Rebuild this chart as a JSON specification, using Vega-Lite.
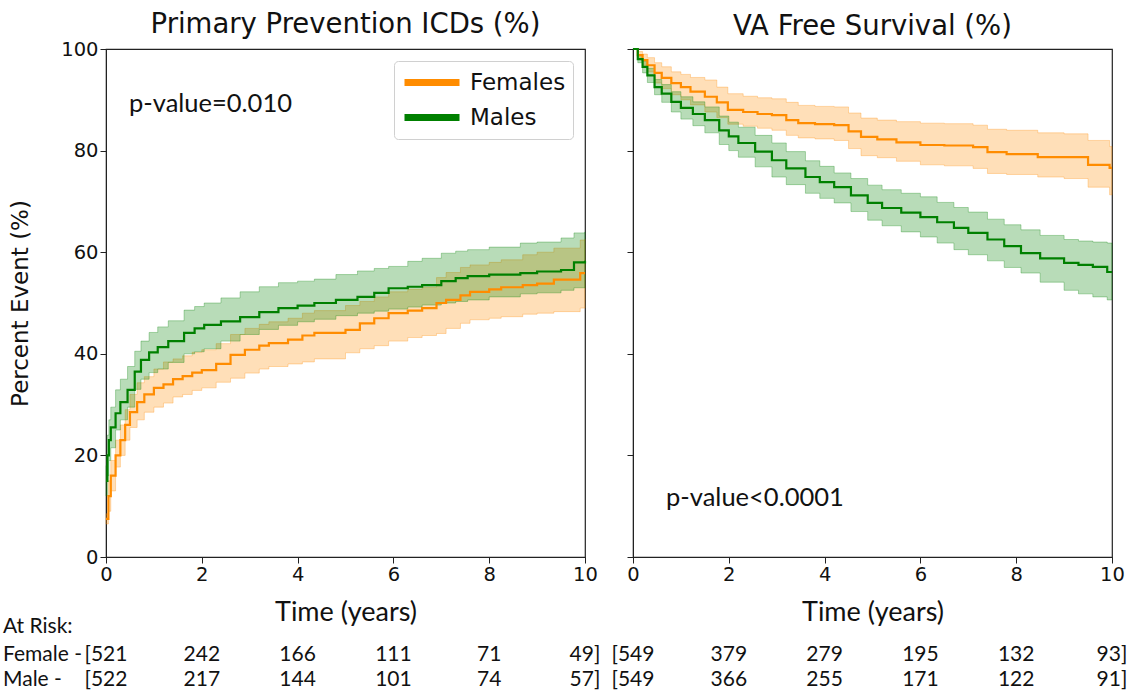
{
  "$schema": "https://vega.github.io/schema/vega-lite/v6.json",
  "padding": {"left": 2, "top": 9, "right": 5, "bottom": 0},
  "background": "white",
  "config": {
    "view": {"stroke": "#222", "strokeWidth": 1.2},
    "font": "DejaVu Sans",
    "axis": {"domainColor": "#222", "tickColor": "#222", "labelColor": "#111", "titleColor": "#111", "labelFont": "DejaVu Sans", "labelFontSize": 19.5, "tickSize": 6, "grid": false, "titleFontWeight": "normal", "labelFlush": false},
    "title": {"font": "DejaVu Sans", "fontSize": 27.5, "fontWeight": "normal", "color": "#111", "offset": 1},
    "text": {"color": "#111"}
  },
  "datasets": {
    "km": [
      {"panel":"ICD","sex":"Females","t":0,"est":7.5,"lo":6.5,"hi":8.5},
      {"panel":"ICD","sex":"Females","t":0.05,"est":12,"lo":9,"hi":15},
      {"panel":"ICD","sex":"Females","t":0.1,"est":16,"lo":13,"hi":19},
      {"panel":"ICD","sex":"Females","t":0.2,"est":20,"lo":17.7,"hi":23},
      {"panel":"ICD","sex":"Females","t":0.3,"est":23,"lo":20,"hi":26},
      {"panel":"ICD","sex":"Females","t":0.4,"est":26,"lo":23,"hi":29},
      {"panel":"ICD","sex":"Females","t":0.5,"est":28.5,"lo":25.5,"hi":32},
      {"panel":"ICD","sex":"Females","t":0.65,"est":30.5,"lo":27,"hi":34.3},
      {"panel":"ICD","sex":"Females","t":0.8,"est":32,"lo":28.5,"hi":35.5},
      {"panel":"ICD","sex":"Females","t":1.0,"est":33.3,"lo":29.5,"hi":37},
      {"panel":"ICD","sex":"Females","t":1.2,"est":34,"lo":30.3,"hi":38.4},
      {"panel":"ICD","sex":"Females","t":1.4,"est":35,"lo":31.5,"hi":39},
      {"panel":"ICD","sex":"Females","t":1.6,"est":35.6,"lo":32,"hi":39.6},
      {"panel":"ICD","sex":"Females","t":1.8,"est":36.3,"lo":32.8,"hi":40.3},
      {"panel":"ICD","sex":"Females","t":2.0,"est":36.8,"lo":33.3,"hi":40.8},
      {"panel":"ICD","sex":"Females","t":2.3,"est":38,"lo":34.4,"hi":42},
      {"panel":"ICD","sex":"Females","t":2.6,"est":39.8,"lo":35.2,"hi":43.8},
      {"panel":"ICD","sex":"Females","t":2.9,"est":40.8,"lo":36.2,"hi":45},
      {"panel":"ICD","sex":"Females","t":3.2,"est":41.6,"lo":37,"hi":45.8},
      {"panel":"ICD","sex":"Females","t":3.4,"est":42.1,"lo":37.5,"hi":46.3},
      {"panel":"ICD","sex":"Females","t":3.8,"est":42.8,"lo":38,"hi":47},
      {"panel":"ICD","sex":"Females","t":4.1,"est":43.6,"lo":38.4,"hi":48},
      {"panel":"ICD","sex":"Females","t":4.35,"est":44.1,"lo":39,"hi":48.5},
      {"panel":"ICD","sex":"Females","t":5.0,"est":44.7,"lo":40.2,"hi":49.5},
      {"panel":"ICD","sex":"Females","t":5.3,"est":46,"lo":41,"hi":50.3},
      {"panel":"ICD","sex":"Females","t":5.6,"est":47,"lo":41.6,"hi":51.2},
      {"panel":"ICD","sex":"Females","t":5.9,"est":48,"lo":42.5,"hi":52.2},
      {"panel":"ICD","sex":"Females","t":6.3,"est":48.5,"lo":43.2,"hi":52.7},
      {"panel":"ICD","sex":"Females","t":6.6,"est":49,"lo":43.6,"hi":53.1},
      {"panel":"ICD","sex":"Females","t":6.9,"est":50,"lo":44,"hi":55},
      {"panel":"ICD","sex":"Females","t":7.1,"est":50.6,"lo":45,"hi":56},
      {"panel":"ICD","sex":"Females","t":7.4,"est":51.5,"lo":46,"hi":57},
      {"panel":"ICD","sex":"Females","t":7.6,"est":52.2,"lo":46.7,"hi":57.5},
      {"panel":"ICD","sex":"Females","t":8.0,"est":52.7,"lo":47,"hi":58},
      {"panel":"ICD","sex":"Females","t":8.25,"est":53.1,"lo":47.3,"hi":58.5},
      {"panel":"ICD","sex":"Females","t":8.7,"est":53.5,"lo":47.8,"hi":59.5},
      {"panel":"ICD","sex":"Females","t":9.0,"est":53.8,"lo":48,"hi":60},
      {"panel":"ICD","sex":"Females","t":9.35,"est":54.6,"lo":48.3,"hi":60.8},
      {"panel":"ICD","sex":"Females","t":9.9,"est":55.9,"lo":49,"hi":62.4},
      {"panel":"ICD","sex":"Females","t":10,"est":55.9,"lo":49,"hi":62.5},

      {"panel":"ICD","sex":"Males","t":0,"est":15,"lo":12,"hi":18},
      {"panel":"ICD","sex":"Males","t":0.03,"est":20,"lo":16,"hi":24},
      {"panel":"ICD","sex":"Males","t":0.06,"est":23,"lo":19,"hi":27},
      {"panel":"ICD","sex":"Males","t":0.1,"est":25.5,"lo":21.5,"hi":29.5},
      {"panel":"ICD","sex":"Males","t":0.2,"est":28.3,"lo":25,"hi":32.9},
      {"panel":"ICD","sex":"Males","t":0.3,"est":30.5,"lo":27,"hi":35},
      {"panel":"ICD","sex":"Males","t":0.45,"est":32.9,"lo":29.5,"hi":37.5},
      {"panel":"ICD","sex":"Males","t":0.6,"est":36.5,"lo":33,"hi":40.5},
      {"panel":"ICD","sex":"Males","t":0.73,"est":38.8,"lo":35,"hi":42.5},
      {"panel":"ICD","sex":"Males","t":0.9,"est":40.3,"lo":36.3,"hi":44.2},
      {"panel":"ICD","sex":"Males","t":1.08,"est":41.3,"lo":37,"hi":45.3},
      {"panel":"ICD","sex":"Males","t":1.3,"est":42.5,"lo":38.3,"hi":46.5},
      {"panel":"ICD","sex":"Males","t":1.63,"est":44.1,"lo":40,"hi":48.6},
      {"panel":"ICD","sex":"Males","t":1.85,"est":45,"lo":40.4,"hi":49.3},
      {"panel":"ICD","sex":"Males","t":2.05,"est":45.7,"lo":41,"hi":50},
      {"panel":"ICD","sex":"Males","t":2.4,"est":46.4,"lo":42.5,"hi":51},
      {"panel":"ICD","sex":"Males","t":2.8,"est":47.2,"lo":43.8,"hi":52.2},
      {"panel":"ICD","sex":"Males","t":3.2,"est":48.2,"lo":44.8,"hi":53.2},
      {"panel":"ICD","sex":"Males","t":3.6,"est":49,"lo":45.6,"hi":54},
      {"panel":"ICD","sex":"Males","t":4.0,"est":49.5,"lo":46.3,"hi":54.3},
      {"panel":"ICD","sex":"Males","t":4.35,"est":50,"lo":46.8,"hi":54.7},
      {"panel":"ICD","sex":"Males","t":4.8,"est":50.6,"lo":47.5,"hi":55.6},
      {"panel":"ICD","sex":"Males","t":5.25,"est":51.2,"lo":48,"hi":56.3},
      {"panel":"ICD","sex":"Males","t":5.6,"est":52,"lo":48.4,"hi":56.8},
      {"panel":"ICD","sex":"Males","t":5.9,"est":52.9,"lo":48.8,"hi":57.2},
      {"panel":"ICD","sex":"Males","t":6.3,"est":53.2,"lo":49.2,"hi":58.2},
      {"panel":"ICD","sex":"Males","t":6.6,"est":53.5,"lo":49.6,"hi":58.8},
      {"panel":"ICD","sex":"Males","t":7.0,"est":54.3,"lo":50,"hi":59.8},
      {"panel":"ICD","sex":"Males","t":7.3,"est":54.9,"lo":50.3,"hi":60.2},
      {"panel":"ICD","sex":"Males","t":7.55,"est":55.3,"lo":50.6,"hi":60.5},
      {"panel":"ICD","sex":"Males","t":8.0,"est":55.6,"lo":51.2,"hi":61},
      {"panel":"ICD","sex":"Males","t":8.65,"est":55.9,"lo":51.8,"hi":61.8},
      {"panel":"ICD","sex":"Males","t":9.0,"est":56.2,"lo":52,"hi":62},
      {"panel":"ICD","sex":"Males","t":9.5,"est":56.5,"lo":52.5,"hi":62.8},
      {"panel":"ICD","sex":"Males","t":9.77,"est":58,"lo":53,"hi":63.8},
      {"panel":"ICD","sex":"Males","t":10,"est":58.3,"lo":53.2,"hi":64},

      {"panel":"VA","sex":"Females","t":0,"est":100,"lo":100,"hi":100},
      {"panel":"VA","sex":"Females","t":0.1,"est":98.8,"lo":98,"hi":99.5},
      {"panel":"VA","sex":"Females","t":0.2,"est":97.8,"lo":96.8,"hi":99},
      {"panel":"VA","sex":"Females","t":0.3,"est":96.8,"lo":95.5,"hi":98.3},
      {"panel":"VA","sex":"Females","t":0.45,"est":95.3,"lo":93.3,"hi":97.3},
      {"panel":"VA","sex":"Females","t":0.6,"est":94.3,"lo":92.2,"hi":96.5},
      {"panel":"VA","sex":"Females","t":0.8,"est":93.3,"lo":91,"hi":95.5},
      {"panel":"VA","sex":"Females","t":1.0,"est":92.5,"lo":90,"hi":95},
      {"panel":"VA","sex":"Females","t":1.2,"est":91.6,"lo":89,"hi":94.4},
      {"panel":"VA","sex":"Females","t":1.5,"est":90.6,"lo":87.6,"hi":93.9},
      {"panel":"VA","sex":"Females","t":1.75,"est":89.5,"lo":86.5,"hi":92.5},
      {"panel":"VA","sex":"Females","t":1.98,"est":88,"lo":85.2,"hi":91.2},
      {"panel":"VA","sex":"Females","t":2.3,"est":87.6,"lo":84.8,"hi":90.7},
      {"panel":"VA","sex":"Females","t":2.6,"est":87.2,"lo":84.4,"hi":90.4},
      {"panel":"VA","sex":"Females","t":2.9,"est":87,"lo":84,"hi":90.2},
      {"panel":"VA","sex":"Females","t":3.2,"est":86,"lo":83,"hi":89.5},
      {"panel":"VA","sex":"Females","t":3.45,"est":85.4,"lo":82.5,"hi":88.9},
      {"panel":"VA","sex":"Females","t":3.8,"est":85.2,"lo":82.3,"hi":88.7},
      {"panel":"VA","sex":"Females","t":4.2,"est":85,"lo":82,"hi":88.6},
      {"panel":"VA","sex":"Females","t":4.5,"est":83.8,"lo":80.4,"hi":87.4},
      {"panel":"VA","sex":"Females","t":4.76,"est":82.7,"lo":79,"hi":86.4},
      {"panel":"VA","sex":"Females","t":5.1,"est":82.2,"lo":78.6,"hi":86},
      {"panel":"VA","sex":"Females","t":5.5,"est":81.6,"lo":77.9,"hi":85.7},
      {"panel":"VA","sex":"Females","t":6.0,"est":81.1,"lo":77.2,"hi":85.4},
      {"panel":"VA","sex":"Females","t":6.5,"est":81,"lo":77,"hi":85.3},
      {"panel":"VA","sex":"Females","t":7.1,"est":80.7,"lo":76.5,"hi":85},
      {"panel":"VA","sex":"Females","t":7.4,"est":79.7,"lo":75.5,"hi":84.2},
      {"panel":"VA","sex":"Females","t":7.8,"est":79.3,"lo":75.3,"hi":84},
      {"panel":"VA","sex":"Females","t":8.45,"est":78.7,"lo":74.8,"hi":83.5},
      {"panel":"VA","sex":"Females","t":9.0,"est":78.7,"lo":74.5,"hi":83.3},
      {"panel":"VA","sex":"Females","t":9.5,"est":77.2,"lo":72.8,"hi":82},
      {"panel":"VA","sex":"Females","t":9.95,"est":76.6,"lo":71.3,"hi":80.8},
      {"panel":"VA","sex":"Females","t":10,"est":76.6,"lo":71.3,"hi":80.7},

      {"panel":"VA","sex":"Males","t":0,"est":100,"lo":100,"hi":100},
      {"panel":"VA","sex":"Males","t":0.1,"est":98,"lo":97.3,"hi":98.8},
      {"panel":"VA","sex":"Males","t":0.2,"est":96.5,"lo":95.3,"hi":97.6},
      {"panel":"VA","sex":"Males","t":0.3,"est":94.8,"lo":93.4,"hi":96.2},
      {"panel":"VA","sex":"Males","t":0.45,"est":92.5,"lo":91,"hi":94},
      {"panel":"VA","sex":"Males","t":0.6,"est":91.2,"lo":89.5,"hi":93},
      {"panel":"VA","sex":"Males","t":0.8,"est":89.6,"lo":87.6,"hi":91.6},
      {"panel":"VA","sex":"Males","t":1.0,"est":88.4,"lo":86.2,"hi":90.6},
      {"panel":"VA","sex":"Males","t":1.25,"est":87.2,"lo":84.9,"hi":89.6},
      {"panel":"VA","sex":"Males","t":1.5,"est":86,"lo":83.5,"hi":88.6},
      {"panel":"VA","sex":"Males","t":1.8,"est":84,"lo":81.2,"hi":86.8},
      {"panel":"VA","sex":"Males","t":2.0,"est":82.8,"lo":80,"hi":85.6},
      {"panel":"VA","sex":"Males","t":2.2,"est":81.5,"lo":78.7,"hi":84.6},
      {"panel":"VA","sex":"Males","t":2.55,"est":79.8,"lo":76.8,"hi":83},
      {"panel":"VA","sex":"Males","t":2.9,"est":78.1,"lo":74.8,"hi":81.5},
      {"panel":"VA","sex":"Males","t":3.2,"est":76.5,"lo":73.3,"hi":79.8},
      {"panel":"VA","sex":"Males","t":3.6,"est":74.8,"lo":71.6,"hi":78},
      {"panel":"VA","sex":"Males","t":3.9,"est":73.8,"lo":70.6,"hi":76.9},
      {"panel":"VA","sex":"Males","t":4.2,"est":72.8,"lo":69.7,"hi":75.6},
      {"panel":"VA","sex":"Males","t":4.55,"est":71.2,"lo":68,"hi":74.5},
      {"panel":"VA","sex":"Males","t":4.9,"est":69.7,"lo":66.3,"hi":73.2},
      {"panel":"VA","sex":"Males","t":5.2,"est":68.7,"lo":65.2,"hi":72.3},
      {"panel":"VA","sex":"Males","t":5.6,"est":67.8,"lo":64,"hi":71.6},
      {"panel":"VA","sex":"Males","t":6.0,"est":66.9,"lo":63,"hi":70.9},
      {"panel":"VA","sex":"Males","t":6.35,"est":65.9,"lo":61.8,"hi":69.8},
      {"panel":"VA","sex":"Males","t":6.7,"est":64.8,"lo":60.5,"hi":68.8},
      {"panel":"VA","sex":"Males","t":7.0,"est":63.8,"lo":59.5,"hi":67.9},
      {"panel":"VA","sex":"Males","t":7.4,"est":62.5,"lo":58.3,"hi":66.5},
      {"panel":"VA","sex":"Males","t":7.75,"est":61.2,"lo":57,"hi":65.4},
      {"panel":"VA","sex":"Males","t":8.1,"est":59.8,"lo":55.9,"hi":64.4},
      {"panel":"VA","sex":"Males","t":8.5,"est":58.8,"lo":54.1,"hi":63.3},
      {"panel":"VA","sex":"Males","t":9.0,"est":57.9,"lo":52.5,"hi":62.5},
      {"panel":"VA","sex":"Males","t":9.3,"est":57.5,"lo":51.8,"hi":62.2},
      {"panel":"VA","sex":"Males","t":9.6,"est":57.1,"lo":51.2,"hi":62},
      {"panel":"VA","sex":"Males","t":9.9,"est":56.1,"lo":50.6,"hi":61.8},
      {"panel":"VA","sex":"Males","t":10,"est":56.1,"lo":50.6,"hi":61.8}
    ],
    "risk": [
      {"panel":"ICD","grp":"Female","t":0,"label":"[521"},
      {"panel":"ICD","grp":"Female","t":2,"label":"242"},
      {"panel":"ICD","grp":"Female","t":4,"label":"166"},
      {"panel":"ICD","grp":"Female","t":6,"label":"111"},
      {"panel":"ICD","grp":"Female","t":8,"label":"71"},
      {"panel":"ICD","grp":"Female","t":10,"label":"49]"},
      {"panel":"ICD","grp":"Male","t":0,"label":"[522"},
      {"panel":"ICD","grp":"Male","t":2,"label":"217"},
      {"panel":"ICD","grp":"Male","t":4,"label":"144"},
      {"panel":"ICD","grp":"Male","t":6,"label":"101"},
      {"panel":"ICD","grp":"Male","t":8,"label":"74"},
      {"panel":"ICD","grp":"Male","t":10,"label":"57]"},
      {"panel":"VA","grp":"Female","t":0,"label":"[549"},
      {"panel":"VA","grp":"Female","t":2,"label":"379"},
      {"panel":"VA","grp":"Female","t":4,"label":"279"},
      {"panel":"VA","grp":"Female","t":6,"label":"195"},
      {"panel":"VA","grp":"Female","t":8,"label":"132"},
      {"panel":"VA","grp":"Female","t":10,"label":"93]"},
      {"panel":"VA","grp":"Male","t":0,"label":"[549"},
      {"panel":"VA","grp":"Male","t":2,"label":"366"},
      {"panel":"VA","grp":"Male","t":4,"label":"255"},
      {"panel":"VA","grp":"Male","t":6,"label":"171"},
      {"panel":"VA","grp":"Male","t":8,"label":"122"},
      {"panel":"VA","grp":"Male","t":10,"label":"91]"}
    ],
    "labels": [
      {"kind":"header","label":"At Risk:"},
      {"kind":"Female","label":"Female -"},
      {"kind":"Male","label":"Male -"},
      {"kind":"pICD","label":"p-value=0.010"},
      {"kind":"pVA","label":"p-value<0.0001"}
    ]
  },
  "hconcat": [
    {
      "width": 479,
      "height": 508,
      "title": {"text": "Primary Prevention ICDs (%)"},
      "layer": [
        {
          "data": {"name": "km"},
          "transform": [{"filter": "datum.panel === 'ICD'"}],
          "mark": {"type": "area", "interpolate": "step-after", "fillOpacity": 0.28, "strokeOpacity": 0.3, "strokeWidth": 1},
          "encoding": {
            "x": {"field": "t", "type": "quantitative", "scale": {"domain": [0, 10]}, "axis": {"values": [0, 2, 4, 6, 8, 10], "title": "Time (years)", "titleFont": "Lato", "titleFontSize": 27, "titlePadding": 16}},
            "y": {"field": "lo", "type": "quantitative", "scale": {"domain": [0, 100]}, "axis": {"values": [0, 20, 40, 60, 80, 100], "title": "Percent Event (%)", "titleFontSize": 23, "titlePadding": 28}},
            "y2": {"field": "hi"},
            "fill": {"field": "sex", "type": "nominal", "scale": {"domain": ["Females", "Males"], "range": ["#ff8c00", "#008000"]}, "legend": null},
            "stroke": {"field": "sex", "type": "nominal", "scale": {"domain": ["Females", "Males"], "range": ["#ff8c00", "#008000"]}, "legend": null}
          }
        },
        {
          "data": {"name": "km"},
          "transform": [{"filter": "datum.panel === 'ICD'"}],
          "mark": {"type": "line", "interpolate": "step-after", "strokeWidth": 2.2},
          "encoding": {
            "x": {"field": "t", "type": "quantitative"},
            "y": {"field": "est", "type": "quantitative"},
            "color": {"field": "sex", "type": "nominal", "scale": {"domain": ["Females", "Males"], "range": ["#ff8c00", "#008000"]}, "legend": {"title": null, "orient": "top-right", "offset": 12, "padding": 7, "strokeColor": "#d0d0d0", "fillColor": "white", "cornerRadius": 4, "symbolType": "M-1,0H4", "symbolStrokeWidth": 7, "symbolSize": 484, "labelFontSize": 23, "labelFont": "DejaVu Sans", "labelColor": "#111", "labelOffset": 40, "rowPadding": 6}}
          }
        },
        {
          "data": {"name": "labels"},
          "transform": [{"filter": "datum.kind === 'pICD'"}],
          "mark": {"type": "text", "align": "left", "baseline": "middle", "font": "Lato", "fontSize": 25.5},
          "encoding": {"x": {"datum": 0.48}, "y": {"datum": 89.2}, "text": {"field": "label"}}
        },
        {
          "data": {"name": "labels"},
          "transform": [{"filter": "datum.kind === 'header'"}],
          "mark": {"type": "text", "align": "left", "baseline": "middle", "font": "Lato", "fontSize": 21},
          "encoding": {"x": {"datum": -2.15}, "y": {"datum": -13.8}, "text": {"field": "label"}}
        },
        {
          "data": {"name": "labels"},
          "transform": [{"filter": "datum.kind === 'Female'"}],
          "mark": {"type": "text", "align": "left", "baseline": "middle", "font": "Lato", "fontSize": 21},
          "encoding": {"x": {"datum": -2.15}, "y": {"datum": -19.3}, "text": {"field": "label"}}
        },
        {
          "data": {"name": "labels"},
          "transform": [{"filter": "datum.kind === 'Male'"}],
          "mark": {"type": "text", "align": "left", "baseline": "middle", "font": "Lato", "fontSize": 21},
          "encoding": {"x": {"datum": -2.15}, "y": {"datum": -24.2}, "text": {"field": "label"}}
        },
        {
          "data": {"name": "risk"},
          "transform": [{"filter": "datum.panel === 'ICD' && datum.grp === 'Female'"}],
          "mark": {"type": "text", "align": "center", "baseline": "middle", "font": "Lato", "fontSize": 21},
          "encoding": {"x": {"field": "t", "type": "quantitative"}, "y": {"datum": -19.3}, "text": {"field": "label"}}
        },
        {
          "data": {"name": "risk"},
          "transform": [{"filter": "datum.panel === 'ICD' && datum.grp === 'Male'"}],
          "mark": {"type": "text", "align": "center", "baseline": "middle", "font": "Lato", "fontSize": 21},
          "encoding": {"x": {"field": "t", "type": "quantitative"}, "y": {"datum": -24.2}, "text": {"field": "label"}}
        }
      ]
    },
    {
      "width": 479,
      "height": 508,
      "title": {"text": "VA Free Survival (%)", "offset": 4},
      "layer": [
        {
          "data": {"name": "km"},
          "transform": [{"filter": "datum.panel === 'VA'"}],
          "mark": {"type": "area", "interpolate": "step-after", "fillOpacity": 0.28, "strokeOpacity": 0.3, "strokeWidth": 1},
          "encoding": {
            "x": {"field": "t", "type": "quantitative", "scale": {"domain": [0, 10]}, "axis": {"values": [0, 2, 4, 6, 8, 10], "title": "Time (years)", "titleFont": "Lato", "titleFontSize": 27, "titlePadding": 16}},
            "y": {"field": "lo", "type": "quantitative", "scale": {"domain": [0, 100]}, "axis": {"values": [0, 20, 40, 60, 80, 100], "labels": false, "title": null}},
            "y2": {"field": "hi"},
            "fill": {"field": "sex", "type": "nominal", "scale": {"domain": ["Females", "Males"], "range": ["#ff8c00", "#008000"]}, "legend": null},
            "stroke": {"field": "sex", "type": "nominal", "scale": {"domain": ["Females", "Males"], "range": ["#ff8c00", "#008000"]}, "legend": null}
          }
        },
        {
          "data": {"name": "km"},
          "transform": [{"filter": "datum.panel === 'VA'"}],
          "mark": {"type": "line", "interpolate": "step-after", "strokeWidth": 2.2},
          "encoding": {
            "x": {"field": "t", "type": "quantitative"},
            "y": {"field": "est", "type": "quantitative"},
            "color": {"field": "sex", "type": "nominal", "legend": null}
          }
        },
        {
          "data": {"name": "labels"},
          "transform": [{"filter": "datum.kind === 'pVA'"}],
          "mark": {"type": "text", "align": "left", "baseline": "middle", "font": "Lato", "fontSize": 25.5},
          "encoding": {"x": {"datum": 0.69}, "y": {"datum": 11.6}, "text": {"field": "label"}}
        },
        {
          "data": {"name": "risk"},
          "transform": [{"filter": "datum.panel === 'VA' && datum.grp === 'Female'"}],
          "mark": {"type": "text", "align": "center", "baseline": "middle", "font": "Lato", "fontSize": 21},
          "encoding": {"x": {"field": "t", "type": "quantitative"}, "y": {"datum": -19.3}, "text": {"field": "label"}}
        },
        {
          "data": {"name": "risk"},
          "transform": [{"filter": "datum.panel === 'VA' && datum.grp === 'Male'"}],
          "mark": {"type": "text", "align": "center", "baseline": "middle", "font": "Lato", "fontSize": 21},
          "encoding": {"x": {"field": "t", "type": "quantitative"}, "y": {"datum": -24.2}, "text": {"field": "label"}}
        }
      ]
    }
  ],
  "spacing": 48,
  "bounds": "flush",
  "resolve": {"legend": {"color": "independent"}}
}
